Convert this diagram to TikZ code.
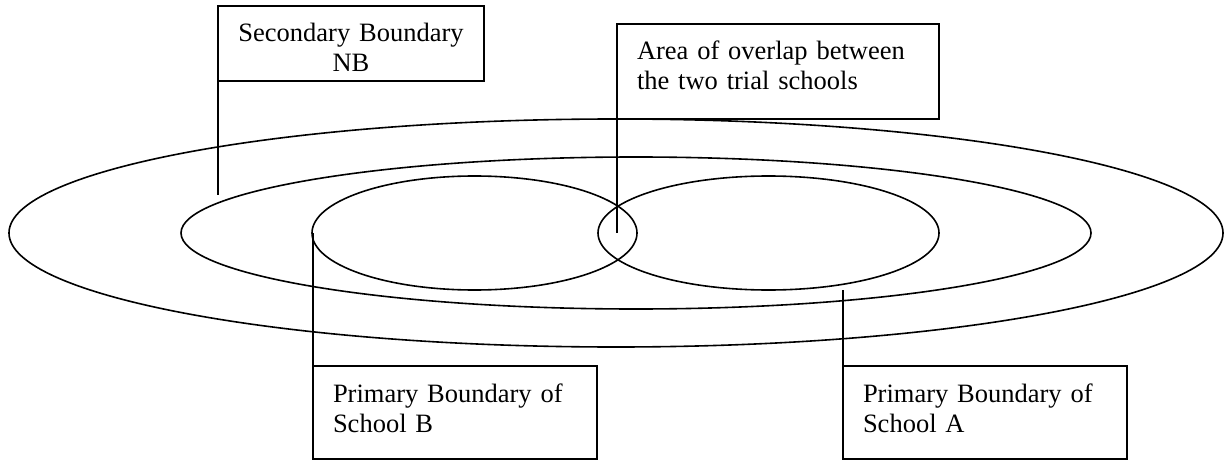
\documentclass[tikz,border=0pt]{standalone}
\usepackage{fontspec}
\setmainfont{Liberation Serif}
\usetikzlibrary{shapes.geometric}

\begin{document}
\begin{tikzpicture}[x=.5pt,y=.5pt,
    boundary/.style={draw,ellipse,line width=.8pt,inner sep=0pt,outer sep=0pt},
    labelbox/.style={draw,line width=1pt,anchor=north west,inner xsep=10pt,
      inner ysep=0pt,outer sep=0pt,text height=18pt,
      font=\fontsize{13.25}{15}\selectfont},
    leader/.style={line width=.7pt}]
    \useasboundingbox (0,0) rectangle (1224,461);

    % catchment boundaries
    \node[boundary,minimum width=607pt,minimum height=114pt] (outer) at (616,228) {};
    \node[boundary,minimum width=455pt,minimum height=76pt] (middle) at (636,228) {};
    \node[boundary,minimum width=162.5pt,minimum height=57pt] (schoolB) at (474.5,228) {};
    \node[boundary,minimum width=170.5pt,minimum height=57pt] (schoolA) at (768.5,228) {};

    % labels
    \node[labelbox,text width=113pt,align=center,text depth=19.5pt]
      (secondary) at (218,455) {Secondary Boundary\\NB};
    \node[labelbox,text width=141pt,align=left,text depth=29.5pt]
      (overlap) at (617,437) {Area of overlap between\\the two trial schools};
    \node[labelbox,text width=122pt,align=left,text depth=28.5pt]
      (boxB) at (313,95) {Primary Boundary of\\School B};
    \node[labelbox,text width=122pt,align=left,text depth=28.5pt]
      (boxA) at (843,95) {Primary Boundary of\\School A};

    \coordinate (secEnd) at (218,266);
    \coordinate (aEnd) at (843,171);

    \draw[leader] (secondary.south west) -- (secEnd);
    \draw[leader] (overlap.south west) -- (overlap.south west |- middle.center);
    \draw[leader] (boxB.north west) -- (boxB.north west |- schoolB.west);
    \draw[leader] (boxA.north west) -- (aEnd);
\end{tikzpicture}
\end{document}
